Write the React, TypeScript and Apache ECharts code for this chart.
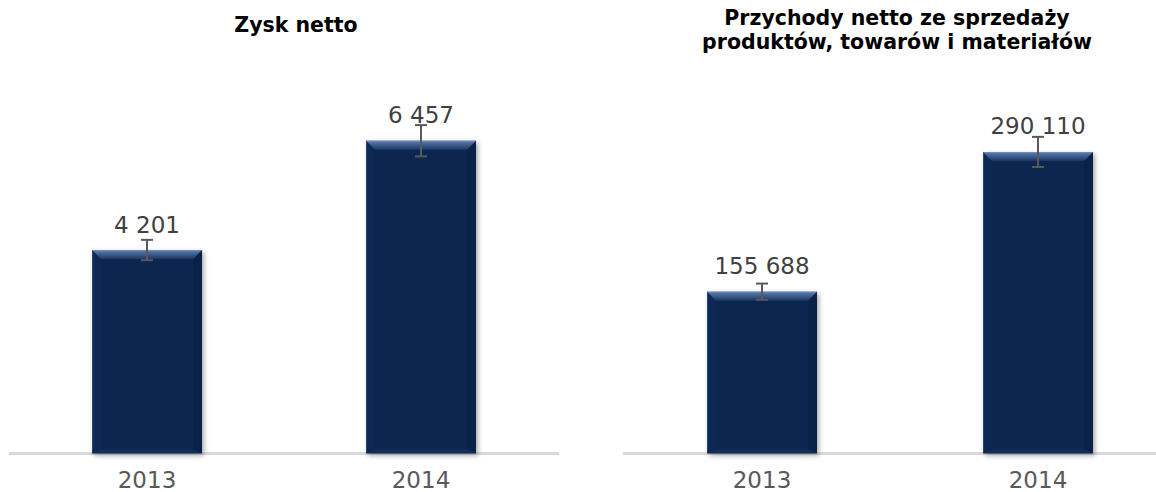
import React, { useEffect, useRef } from "react";
import * as echarts from "echarts";

const categories = ["2013", "2014"];
const profitValues = [4201, 6457];
const profitErrors = [210, 323];
const revenueValues = [155688, 290110];
const revenueErrors = [7784, 14506];
const profitTitle = "Zysk netto";
const revenueTitle = "Przychody netto ze sprzedaży\nproduktów, towarów i materiałów";

const FONT = "DejaVu Sans, Verdana, sans-serif";
const BAR_W = 110;
const BEVEL = 9;

const fmt = (v: number) => String(v).replace(/\B(?=(\d{3})+(?!\d))/g, " ");

function bevelRender(params: any, api: any) {
  const top = api.coord([api.value(0), api.value(1)]);
  const base = api.coord([api.value(0), 0]);
  const l = top[0] - BAR_W / 2;
  const r = top[0] + BAR_W / 2;
  const t = top[1];
  const b = base[1] - 1;
  return {
    type: "group",
    children: [
      {
        type: "polygon",
        shape: { points: [[l, t], [l + BEVEL, t + BEVEL], [l + BEVEL, b - 3], [l, b]] },
        style: { fill: "#0e2854" },
      },
      {
        type: "polygon",
        shape: { points: [[r, t], [r - BEVEL, t + BEVEL], [r - BEVEL, b - 3], [r, b]] },
        style: { fill: "#0a2248" },
      },
      {
        type: "polygon",
        shape: { points: [[l, b], [l + BEVEL, b - 3], [r - BEVEL, b - 3], [r, b]] },
        style: { fill: "#132e5a" },
      },
      {
        type: "line",
        shape: { x1: l + 0.5, y1: t, x2: l + 0.5, y2: b },
        style: { stroke: "#2a4674", lineWidth: 1 },
      },
      {
        type: "polygon",
        shape: { points: [[l, t], [r, t], [r - BEVEL, t + BEVEL], [l + BEVEL, t + BEVEL]] },
        style: {
          fill: new echarts.graphic.LinearGradient(0, 0, 0, 1, [
            { offset: 0, color: "#7a95bf" },
            { offset: 0.2, color: "#5070a1" },
            { offset: 1, color: "#1a3866" },
          ]),
        },
      },
    ],
  };
}

function errRender(params: any, api: any) {
  const i = api.value(0);
  const v = api.value(1);
  const e = api.value(2);
  const hi = api.coord([i, v + e]);
  const lo = api.coord([i, v - e]);
  const x = hi[0];
  const style = { stroke: "#595959", lineWidth: 2 };
  return {
    type: "group",
    children: [
      { type: "line", shape: { x1: x, y1: hi[1], x2: x, y2: lo[1] }, style },
      { type: "line", shape: { x1: x - 6, y1: hi[1], x2: x + 6, y2: hi[1] }, style },
      { type: "line", shape: { x1: x - 6, y1: lo[1], x2: x + 6, y2: lo[1] }, style },
    ],
  };
}

function barSeries(idx: number, values: number[]) {
  return {
    type: "bar",
    xAxisIndex: idx,
    yAxisIndex: idx,
    barWidth: BAR_W,
    data: values,
    itemStyle: {
      color: "#0b2550",
      shadowBlur: 5,
      shadowOffsetX: 2,
      shadowOffsetY: 2,
      shadowColor: "rgba(0,0,0,0.35)",
    },
    label: {
      show: true,
      position: "top",
      distance: 14,
      fontSize: 23,
      fontFamily: FONT,
      color: "#404040",
      formatter: (p: any) => fmt(p.value),
    },
    z: 2,
  };
}

function bevelSeries(idx: number, values: number[]) {
  return {
    type: "custom",
    xAxisIndex: idx,
    yAxisIndex: idx,
    renderItem: bevelRender,
    data: values.map((v, i) => [i, v]),
    encode: { x: 0, y: 1 },
    silent: true,
    z: 3,
  };
}

function errSeries(idx: number, values: number[], errs: number[]) {
  return {
    type: "custom",
    xAxisIndex: idx,
    yAxisIndex: idx,
    renderItem: errRender,
    data: values.map((v, i) => [i, v, errs[i]]),
    encode: { x: 0, y: 1 },
    silent: true,
    z: 5,
  };
}

function xAxisCfg(idx: number) {
  return {
    type: "category",
    gridIndex: idx,
    data: categories,
    axisLine: { show: true, lineStyle: { color: "#d9d9d9", width: 3 } },
    axisTick: { show: false },
    axisLabel: { fontSize: 23, fontFamily: FONT, color: "#595959", margin: 15 },
  };
}

function yAxisCfg(idx: number, max: number) {
  return {
    type: "value",
    gridIndex: idx,
    min: 0,
    max,
    show: false,
    splitLine: { show: false },
  };
}

export default function App() {
  const ref = useRef<HTMLDivElement>(null);
  useEffect(() => {
    if (!ref.current) return;
    const chart = echarts.init(ref.current, undefined, { renderer: "svg" });
    chart.setOption({
      animation: false,
      backgroundColor: "#ffffff",
      grid: [
        { left: 10, width: 548, top: 66, height: 387.5, outerBoundsMode: "none", containLabel: false },
        { left: 624, width: 552, top: 89.7, height: 363.8, outerBoundsMode: "none", containLabel: false },
      ],
      xAxis: [xAxisCfg(0), xAxisCfg(1)],
      yAxis: [yAxisCfg(0, 8000), yAxisCfg(1, 350000)],
      graphic: [
        {
          type: "text",
          x: 296,
          y: 25,
          style: {
            text: profitTitle,
            textAlign: "center",
            textVerticalAlign: "middle",
            fontSize: 20.5,
            fontWeight: "bold",
            fontFamily: FONT,
            fill: "#000000",
          },
        },
        {
          type: "text",
          x: 897,
          y: 30,
          style: {
            text: revenueTitle,
            textAlign: "center",
            textVerticalAlign: "middle",
            fontSize: 20.5,
            lineHeight: 24,
            fontWeight: "bold",
            fontFamily: FONT,
            fill: "#000000",
          },
        },
      ],
      series: [
        barSeries(0, profitValues),
        bevelSeries(0, profitValues),
        errSeries(0, profitValues, profitErrors),
        barSeries(1, revenueValues),
        bevelSeries(1, revenueValues),
        errSeries(1, revenueValues, revenueErrors),
      ],
    });
    return () => chart.dispose();
  }, []);
  return (
    <div
      ref={ref}
      style={{ position: "fixed", left: 0, top: 0, width: 1156, height: 492, overflow: "hidden" }}
    />
  );
}
